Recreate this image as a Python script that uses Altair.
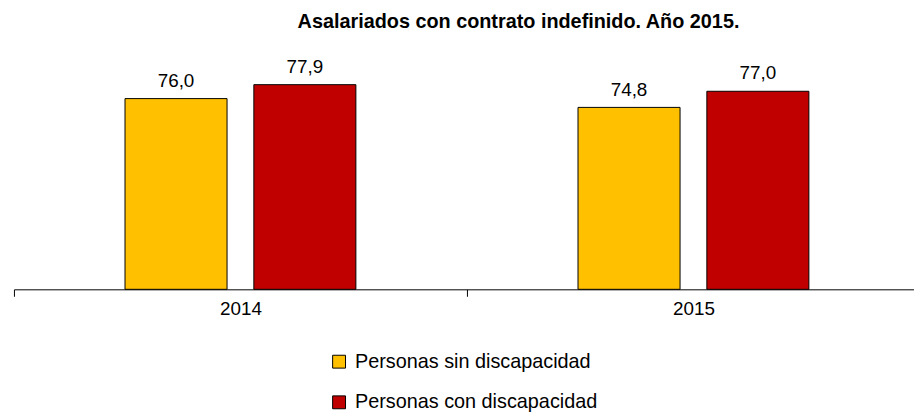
import altair as alt
import pandas as pd

years = ["2014", "2015"]
groups = ["Personas sin discapacidad", "Personas con discapacidad"]
sin_vals = [76.0, 74.8]
con_vals = [77.9, 77.0]
colors = ["#FFC000", "#C00000"]
title_text = "Asalariados con contrato indefinido. Año 2015."
y_min, y_max = 50, 80

rows = []
for i, yr in enumerate(years):
    rows.append({"year": yr, "grupo": groups[0], "valor": sin_vals[i]})
    rows.append({"year": yr, "grupo": groups[1], "valor": con_vals[i]})
df = pd.DataFrame(rows)
df["label"] = df["valor"].map(lambda v: f"{v:.1f}".replace(".", ","))

FONT = "Liberation Sans"

x = alt.X(
    "year:N",
    sort=years,
    scale=alt.Scale(paddingInner=0, paddingOuter=0, range=[0, 914]),
    axis=alt.Axis(
        title=None, labelAngle=0, tickBand="extent", domainColor="black",
        domainWidth=1, tickColor="black", tickSize=7, labelFontSize=19,
        labelColor="black", labelPadding=3, labelFont=FONT, grid=False,
    ),
)
xo = alt.XOffset("grupo:N", sort=groups,
                 scale=alt.Scale(paddingInner=0.208, paddingOuter=0.862))
y = alt.Y("valor:Q", scale=alt.Scale(domain=[y_min, y_max], zero=False, nice=False), axis=None)

bars = alt.Chart(df).mark_bar(stroke="black", strokeWidth=1).encode(
    x=x, xOffset=xo, y=y, y2=alt.datum(y_min),
    color=alt.Color(
        "grupo:N", sort=groups,
        scale=alt.Scale(domain=groups, range=colors),
        legend=alt.Legend(
            title=None, orient="none", legendX=318, legendY=285,
            direction="vertical", symbolType="square", symbolSize=169,
            symbolStrokeColor="black", symbolStrokeWidth=1,
            labelFontSize=20, labelFont=FONT, labelColor="black",
            rowPadding=21, padding=0, labelOffset=6, labelLimit=0,
        ),
    ),
)

text = alt.Chart(df).mark_text(
    baseline="bottom", dy=-8, fontSize=19, font=FONT, color="black"
).encode(x=x, xOffset=xo, y=y, text="label:N")

chart = alt.layer(bars, text).properties(
    width=908, height=222,
    autosize=alt.AutoSizeParams(type="none"),
    padding={"left": 6, "top": 60, "right": 0, "bottom": 126},
    title=alt.TitleParams(
        title_text, fontSize=20, fontWeight="bold", font=FONT, color="black",
        anchor="middle", dx=55, offset=26,
    ),
).configure_view(stroke=None)

chart.save("out.html", embed_options={"renderer": "svg", "actions": False})
